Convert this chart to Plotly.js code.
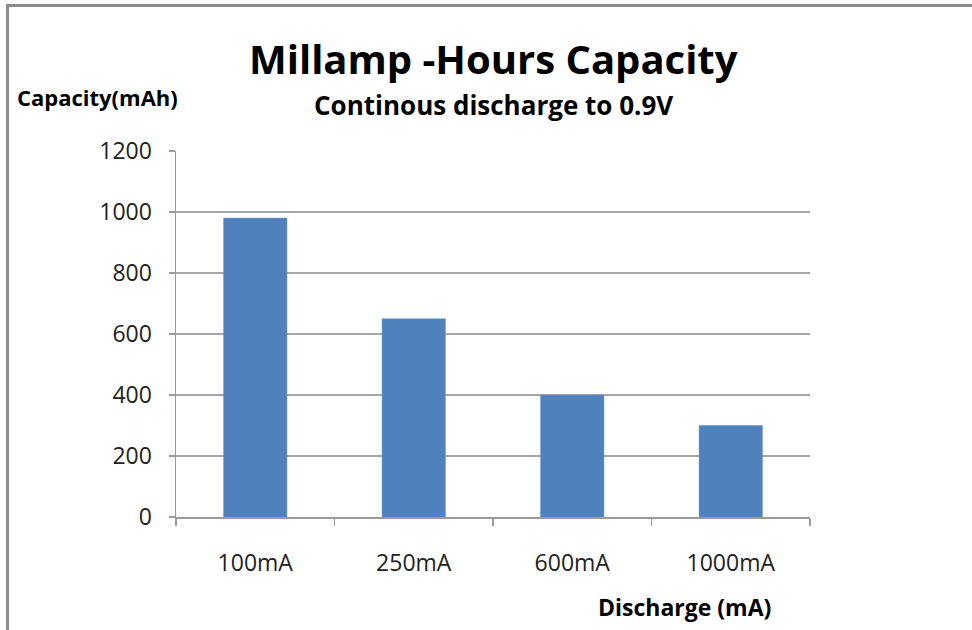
<!DOCTYPE html>
<html>
<head>
<meta charset="utf-8">
<script src="https://cdn.plot.ly/plotly-3.0.1.min.js"></script>
<style>
html,body{margin:0;padding:0;background:#fff;}
#wrap{position:absolute;left:0;top:0;width:972px;height:630px;overflow:hidden;}
#frame{position:absolute;left:6px;top:4px;width:980px;height:640px;border-top:3px solid #8c8c8c;border-left:3px solid #8c8c8c;box-sizing:border-box;pointer-events:none;z-index:5;}
#chart{position:absolute;left:0;top:0;width:972px;height:630px;}
</style>
</head>
<body>
<div id="wrap"><div id="chart"></div><div id="frame"></div></div>
<script>
const categories = ["100mA", "250mA", "600mA", "1000mA"];
const capacity = [980, 650, 400, 300];
const yTicks = [0, 200, 400, 600, 800, 1000, 1200];

const titleText = "Millamp -Hours Capacity";
const subtitleText = "Continous discharge to 0.9V";
const yTitle = "Capacity(mAh)";
const xTitle = "Discharge (mA)";

const font = "'Open Sans', Lato, sans-serif";

const trace = {
  type: "bar",
  x: categories,
  y: capacity,
  marker: {color: "#4f81bd", line: {color: "#6a96cc", width: 0.5}},
  hoverinfo: "x+y"
};

const layout = {
  width: 972, height: 630,
  margin: {l: 176, r: 162, t: 151, b: 113},
  paper_bgcolor: "#ffffff", plot_bgcolor: "#ffffff",
  showlegend: false,
  bargap: 0.6,
  font: {family: font, color: "#000"},
  xaxis: {
    type: "category",
    showline: true, linecolor: "#9a9a9a", linewidth: 1.5,
    ticks: "outside", tickson: "boundaries", ticklen: 7, tickcolor: "#9a9a9a", tickwidth: 1.5,
    showgrid: false,
    tickfont: {family: font, size: 23, color: "#222"},
    ticklabelstandoff: 25,
    fixedrange: true
  },
  yaxis: {
    range: [0, 1200],
    tickvals: yTicks,
    ticktext: yTicks.map(String),
    showline: true, linecolor: "#9a9a9a", linewidth: 1.5,
    ticks: "outside", ticklen: 6, tickcolor: "#9a9a9a", tickwidth: 1.5,
    showgrid: true, gridcolor: "#a6a6a6", gridwidth: 1.5,
    zeroline: false,
    tickfont: {family: font, size: 23, color: "#222"},
    ticklabelstandoff: 12,
    fixedrange: true
  },
  annotations: [
    {text: "<b>" + titleText + "</b>", xref: "paper", yref: "paper", x: 0.5, y: 1.254, xanchor: "center", yanchor: "middle", showarrow: false, font: {family: font, size: 40, color: "#000"}},
    {text: "<b>" + subtitleText + "</b>", xref: "paper", yref: "paper", x: 0.5, y: 1.126, xanchor: "center", yanchor: "middle", showarrow: false, font: {family: font, size: 26, color: "#000"}},
    {text: "<b>" + yTitle + "</b>", xref: "paper", yref: "paper", x: -0.254, y: 1.148, xanchor: "left", yanchor: "middle", showarrow: false, font: {family: font, size: 22, color: "#000"}},
    {text: "<b>" + xTitle + "</b>", xref: "paper", yref: "paper", x: 0.662, y: -0.246, xanchor: "left", yanchor: "middle", showarrow: false, font: {family: font, size: 23, color: "#000"}}
  ]
};

Plotly.newPlot("chart", [trace], layout, {displayModeBar: false, staticPlot: true});
</script>
</body>
</html>
